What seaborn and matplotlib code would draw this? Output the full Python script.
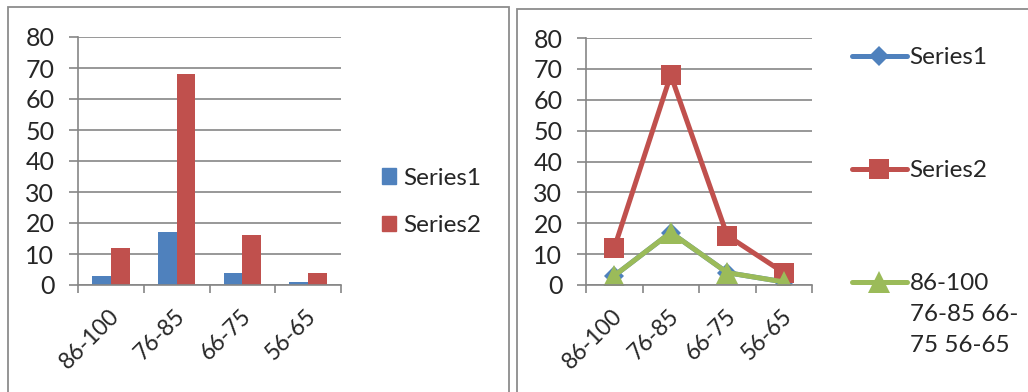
import numpy as np
import pandas as pd
import matplotlib
matplotlib.use("Agg")
import matplotlib.pyplot as plt
import matplotlib.patches as mpatches
import matplotlib.transforms as mtransforms
from matplotlib.lines import Line2D
import seaborn as sns

# ---- data ----
categories = ["86-100", "76-85", "66-75", "56-65"]
series1 = [3, 17, 4, 1]
series2 = [12, 68, 16, 4]
series3 = [3, 17, 4, 1]
bar_series_names = ["Series1", "Series2"]
line_series_names = ["Series1", "Series2", "86-100\n76-85 66-\n75 56-65"]
yticks = [0, 10, 20, 30, 40, 50, 60, 70, 80]

BLUE = "#4F81BD"
RED = "#C0504D"
GREEN = "#9BBB59"
GRID = "#868686"

sns.set_style("white")
plt.rcParams["font.family"] = ["Lato", "DejaVu Sans"]
FS_Y = 18
FS_X = 16.5
FS_L = 17.5

W, H = 1028, 392
fig = plt.figure(figsize=(W / 100, H / 100), dpi=100)


def px_axes(x0, x1, ytop, ybot):
    return fig.add_axes([x0 / W, 1 - ybot / H, (x1 - x0) / W, (ybot - ytop) / H])


# frames
fig.patches.append(mpatches.Rectangle((8 / W, -0.05), (509 - 8) / W, 1.05 - 7 / H,
                                      transform=fig.transFigure, fill=False,
                                      edgecolor="#8C8C8C", linewidth=1.3))
fig.patches.append(mpatches.Rectangle((517 / W, -0.05), 0.6, 1.05 - 9 / H,
                                      transform=fig.transFigure, fill=False,
                                      edgecolor="#8C8C8C", linewidth=1.3))


def style_axes(ax):
    ax.set_ylim(0, 80)
    ax.set_xlim(-0.5, 3.5)
    ax.set_yticks(yticks)
    ax.set_yticklabels([str(v) for v in yticks], fontsize=FS_Y)
    ax.yaxis.grid(True, color=GRID, linewidth=1.2)
    ax.xaxis.grid(False)
    ax.set_axisbelow(True)
    for s in ["top", "right"]:
        ax.spines[s].set_visible(False)
    for s in ["left", "bottom"]:
        ax.spines[s].set_visible(True)
        ax.spines[s].set_color(GRID)
        ax.spines[s].set_linewidth(1.2)
    ax.tick_params(axis="y", which="major", length=6.5, width=1.2, color=GRID,
                   direction="out", pad=10.5, left=True)
    ax.set_xticks(range(len(categories)))
    ax.set_xticks(np.arange(-0.5, len(categories), 1.0), minor=True)
    ax.tick_params(axis="x", which="minor", length=6, width=1.2, color=GRID,
                   direction="out", bottom=True)
    ax.tick_params(axis="x", which="major", length=0, pad=20)
    ax.set_xticklabels(categories, rotation=45, ha="right", va="center",
                       rotation_mode="anchor", fontsize=FS_X)
    off = mtransforms.ScaledTranslation(5 / 100, 0, fig.dpi_scale_trans)
    for lab in ax.get_xticklabels():
        lab.set_transform(lab.get_transform() + off)
    ax.set_xlabel("")
    ax.set_ylabel("")


# ---- left: bar chart ----
ax1 = px_axes(78, 341, 37, 285)
df_bar = pd.DataFrame({
    "category": categories * 2,
    "value": series1 + series2,
    "series": [bar_series_names[0]] * 4 + [bar_series_names[1]] * 4,
})
sns.barplot(data=df_bar, x="category", y="value", hue="series", order=categories,
            hue_order=bar_series_names, palette=[BLUE, RED], width=0.57, gap=0,
            saturation=1, ax=ax1, legend=False, linewidth=0)
style_axes(ax1)
handles = [mpatches.Patch(color=BLUE), mpatches.Patch(color=RED)]
leg1 = ax1.legend(handles, bar_series_names, loc="center left",
                  bbox_to_anchor=(1.155, 0.335), frameon=False, fontsize=FS_L,
                  handlelength=0.6, handleheight=0.6, handletextpad=0.3,
                  labelspacing=1.1, borderaxespad=0, borderpad=0)

# ---- right: line chart ----
ax2 = px_axes(586, 812, 38, 285)
markers = ["D", "s", "^"]
msizes = [10, 15, 16]
colors = [BLUE, RED, GREEN]
for vals, name, mk, ms, c in zip([series1, series2, series3], line_series_names,
                                 markers, msizes, colors):
    d = pd.DataFrame({"category": categories, "value": vals})
    sns.lineplot(data=d, x="category", y="value", ax=ax2, color=c, linewidth=3.6,
                 marker=mk, markersize=ms, markeredgewidth=0, markeredgecolor=c,
                 sort=False)
style_axes(ax2)

ypos = [57, 170, 283]
for name, mk, ms, c, yp in zip(line_series_names, markers, msizes, colors, ypos):
    h = Line2D([], [], color=c, linewidth=3.6, marker=mk, markersize=ms,
               markeredgewidth=0)
    lg = fig.legend([h], [name], loc="upper left",
                    bbox_to_anchor=(852 / W, 1 - (yp - 10) / H), frameon=False,
                    fontsize=FS_L, handlelength=2.25, handletextpad=0.12,
                    borderaxespad=0, borderpad=0)
    for t in lg.get_texts():
        t.set_linespacing(1.58)
    try:
        for vp in lg._legend_handle_box.get_children():
            for hp in vp.get_children():
                hp.align = "top"
    except Exception:
        pass

fig.savefig("out.png", dpi=100)
